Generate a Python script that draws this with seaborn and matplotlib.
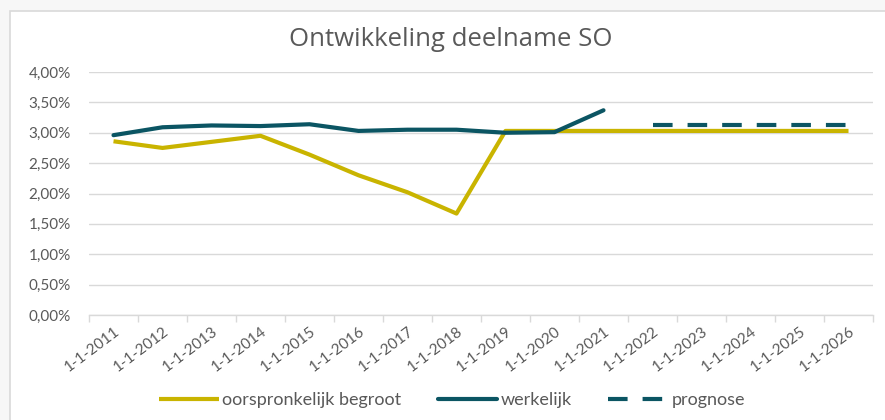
import numpy as np
import pandas as pd
import seaborn as sns
from matplotlib import pyplot as plt
from matplotlib.patches import Rectangle
from matplotlib.ticker import FixedLocator, FuncFormatter

years = list(range(2011, 2027))
tick_labels = [f"1-1-{y}" for y in years]

# values in percent
begroot = [2.86, 2.75, 2.85, 2.95, 2.64, 2.30, 2.02, 1.67, 3.03, 3.03,
           3.03, 3.03, 3.03, 3.03, 3.03, 3.03]
werkelijk_years = list(range(2011, 2022))
werkelijk = [2.96, 3.09, 3.12, 3.11, 3.14, 3.03, 3.05, 3.05, 3.00, 3.01, 3.37]
prognose_years = list(range(2022, 2027))
prognose = [3.12, 3.12, 3.12, 3.12, 3.12]

YELLOW = "#C9B400"
TEAL = "#0B5563"
GREY = "#595959"
GRID = "#D9D9D9"

sns.set_theme(style="white")
plt.rcParams['font.family'] = ['Lato', 'DejaVu Sans']

fig = plt.figure(figsize=(8.85, 4.2), dpi=100, facecolor="#F7F7F7")
fig.patches.append(Rectangle((10 / 885, -0.1), 1.0, 1 - 11 / 420 + 0.1, transform=fig.transFigure,
                             facecolor="white", edgecolor=GRID, lw=1.2, zorder=-5))
ax = fig.add_axes([89 / 885, 1 - 315 / 420, (873 - 89) / 885, (315 - 72) / 420])
ax.set_facecolor("none")

pos = {y: i for i, y in enumerate(years)}
sns.lineplot(x=[pos[y] for y in years], y=begroot, color=YELLOW, lw=3, ax=ax,
             label="oorspronkelijk begroot", solid_capstyle="butt")
sns.lineplot(x=[pos[y] for y in werkelijk_years], y=werkelijk, color=TEAL, lw=3, ax=ax,
             label="werkelijk", solid_capstyle="round")
sns.lineplot(x=[pos[y] for y in prognose_years], y=prognose, color=TEAL, lw=3, ax=ax,
             label="prognose")
ax.lines[-1].set_dashes((4.7, 3.6))

ax.set_xlim(-0.5, len(years) - 0.5)
ax.set_ylim(0, 4)
ax.set_yticks(np.arange(0, 4.01, 0.5))
ax.yaxis.set_major_formatter(FuncFormatter(lambda v, _: f"{v:.2f}%".replace(".", ",")))
ax.grid(axis="y", color=GRID, lw=1)
ax.set_axisbelow(True)

ax.set_xticks(range(len(years)))
ax.set_xticklabels(tick_labels, rotation=37, ha="right", va="top", rotation_mode="anchor")
ax.xaxis.set_minor_locator(FixedLocator(np.arange(-0.5, len(years), 1.0)))
ax.tick_params(axis="x", which="major", length=0, pad=7, labelsize=11, labelcolor=GREY)
ax.tick_params(axis="x", which="minor", length=5, color=GRID, width=1, bottom=True)
ax.tick_params(axis="y", length=0, pad=13, labelsize=11, labelcolor=GREY)

for s in ["left", "right", "top"]:
    ax.spines[s].set_visible(False)
ax.spines["bottom"].set_color(GRID)
ax.spines["bottom"].set_linewidth(1)
ax.set_xlabel("")
ax.set_ylabel("")

fig.text(451 / 885, 1 - 39 / 420, "Ontwikkeling deelname SO", ha="center", va="center",
         fontsize=18.5, color=GREY, family=["Open Sans", "DejaVu Sans"])

ax.get_legend().remove()
leg = fig.legend(*ax.get_legend_handles_labels(), loc="center", bbox_to_anchor=(452 / 885, 1 - 400 / 420),
                 ncol=3, frameon=False, fontsize=13, handlelength=3.3, handletextpad=0.2,
                 columnspacing=2.0, labelcolor=GREY)

fig.savefig("out.png", dpi=100, facecolor=fig.get_facecolor())
